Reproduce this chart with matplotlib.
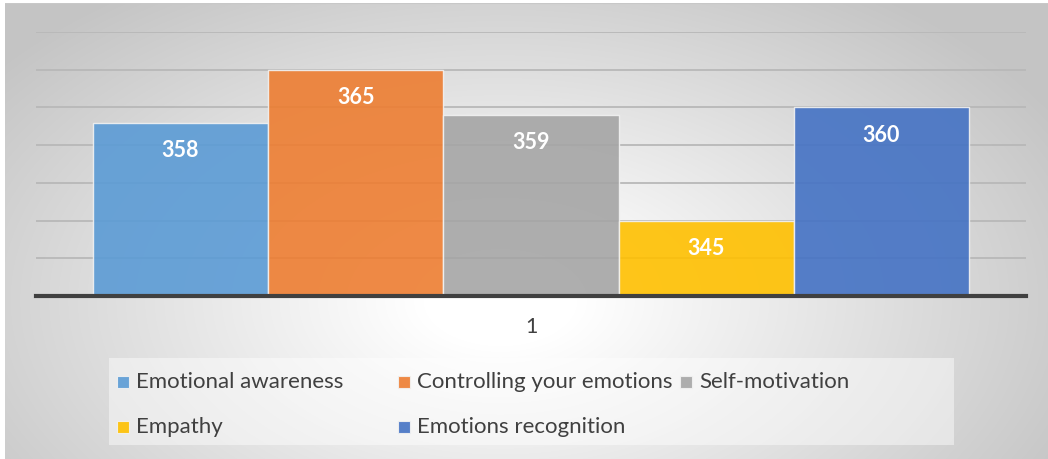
import matplotlib
matplotlib.use('Agg')
import matplotlib.pyplot as plt
import matplotlib.patches as patches
import numpy as np

# data
series = ['Emotional awareness', 'Controlling your emotions', 'Self-motivation',
          'Empathy', 'Emotions recognition']
values = [358, 365, 359, 345, 360]
colors = ['#5B9BD5', '#ED7D31', '#A5A5A5', '#FFC000', '#4472C4']
category = ['1']

W, H = 1048, 459
plt.rcParams['font.family'] = ['Lato', 'DejaVu Sans']

fig = plt.figure(figsize=(W / 100, H / 100), dpi=100)
fig.patch.set_facecolor('white')


def fx(px):
    return px / W


def fy(py):
    return 1 - py / H


# radial gradient background (Excel style)
bg = fig.add_axes([fx(5), 0, 1 - fx(5), fy(3)], zorder=-10)
yy, xx = np.mgrid[3:H, 5:W]
d = np.sqrt(((xx - 500) / 640.0) ** 2 + ((yy - 300) / 380.0) ** 2)
shade = 1 - 0.23 * np.clip((d - 0.12) / 0.88, 0, 1)
bg.imshow(np.dstack([shade] * 3), aspect='auto', extent=(0, 1, 0, 1),
          interpolation='bilinear')
bg.plot([0, 1], [1, 1], color='#c8c8c8', lw=1.5, transform=bg.transAxes)
bg.set_xlim(0, 1)
bg.set_ylim(0, 1)
bg.axis('off')

# plot area
ax = fig.add_axes([fx(36), fy(296), fx(1026) - fx(36), fy(32) - fy(296)])
ax.set_facecolor('none')
x = np.arange(len(values))
bars = ax.bar(x, values, width=1.0, color=colors, alpha=0.9,
              edgecolor='#f2f2f2', linewidth=1.0, zorder=2)
for xi, v in zip(x, values):
    ax.annotate(str(v), (xi, v), xytext=(0, -20), textcoords='offset points',
                ha='center', va='center', color='white', fontsize=15.5,
                fontweight='bold', zorder=3)

ax.set_ylim(335, 370)
ax.set_xlim(-0.825, len(values) - 1 + 0.825)
ax.set_yticks(np.arange(335, 371, 5))
ax.yaxis.grid(True, color='#b8b8b8', linewidth=1.3, zorder=0)
ax.set_axisbelow(True)
ax.tick_params(axis='y', length=0, labelleft=False)
ax.set_xticks([(len(values) - 1) / 2])
ax.set_xticklabels(category, fontsize=15.5, color='#404040')
ax.tick_params(axis='x', length=0, pad=15)
for s in ['top', 'right', 'left']:
    ax.spines[s].set_visible(False)
ax.spines['bottom'].set_linewidth(3)
ax.spines['bottom'].set_color('#404040')
ax.spines['bottom'].set_zorder(4)

# legend box, drawn by hand to keep Excel's row-first layout
fig.add_artist(patches.Rectangle((fx(109), fy(445)), fx(954) - fx(109), fy(358) - fy(445),
                                 transform=fig.transFigure, facecolor='white',
                                 alpha=0.45, edgecolor='none'))
leg_pos = [(117, 382), (398, 382), (680, 382), (117, 427), (398, 427)]
for (px, py), name, c in zip(leg_pos, series, colors):
    fig.add_artist(patches.Rectangle((fx(px), fy(py + 6)), fx(12), 12 / H,
                                     transform=fig.transFigure, facecolor=c,
                                     alpha=0.9, edgecolor='#f2f2f2', linewidth=0.8))
    fig.text(fx(px + 19), fy(py), name, ha='left', va='center',
             fontsize=16, color='#404040')

fig.savefig('out.png', dpi=100)
